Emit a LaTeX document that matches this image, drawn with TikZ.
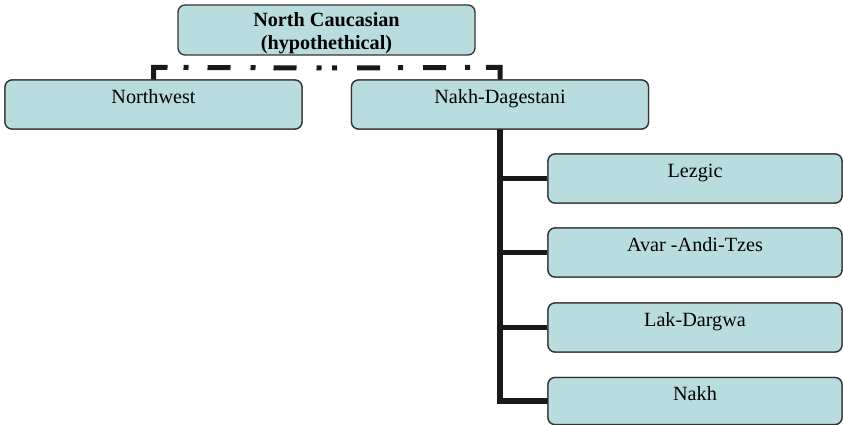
\documentclass[tikz,border=0pt]{standalone}
\usepackage{fontspec}
\setmainfont{Liberation Serif}
\begin{document}
\begin{tikzpicture}[x=1pt,y=-1pt,
  box/.style={draw=black!80, line width=1.3pt, fill=boxfill, rounded corners=7pt, minimum width=297pt, minimum height=49pt, inner sep=0pt},
  lbl/.style={anchor=base, font=\fontsize{20.2}{23}\selectfont, inner sep=0pt},
  conn/.style={draw=black!90, line width=5.5pt},
  dconn/.style={draw=black!90, line width=5pt, dash pattern=on 29pt off 16pt on 5pt off 19pt on 23pt off 20pt on 5pt off 18pt on 23pt off 20pt on 5pt off 30pt}]
\definecolor{boxfill}{HTML}{B9DDDF}
\useasboundingbox (0,0) rectangle (843,425);
% box positions
\path (326.5,30) coordinate (pnc) (153.5,104.5) coordinate (pnw) (500,104.5) coordinate (pnd)
      (695,178.5) coordinate (plz) (695,252.5) coordinate (pav) (695,327.5) coordinate (plk) (695,401) coordinate (pnk);
\node[box, minimum height=50pt] (nc) at (pnc) {};
\node[box] (nw) at (pnw) {};
\node[box] (nd) at (pnd) {};
\node[box, minimum width=294pt] (lz) at (plz) {};
\node[box, minimum width=294pt] (av) at (pav) {};
\node[box, minimum width=294pt] (lk) at (plk) {};
\node[box, minimum width=294pt, minimum height=47pt] (nk) at (pnk) {};
% connectors
\coordinate (mid) at (326.5,68);
\draw[dconn] ([yshift=-3pt]nw.north) -- ++(0,-15) -- (mid);
\draw[dconn] ([yshift=-3pt]nd.north) -- ++(0,-15) -- (mid);
\draw[conn] ([yshift=1pt]nd.south) |- ([xshift=1pt]nk.west);
\draw[conn] (lz.west) -- (lz.west -| nd.south);
\draw[conn] (av.west) -- (av.west -| nd.south);
\draw[conn] (lk.west) -- (lk.west -| nd.south);
% boxes redrawn over connector ends
\node[box] at (pnw) {};
\node[box] at (pnd) {};
\node[box, minimum width=294pt] at (plz) {};
\node[box, minimum width=294pt] at (pav) {};
\node[box, minimum width=294pt] at (plk) {};
\node[box, minimum width=294pt, minimum height=47pt] at (pnk) {};
% texts
\node[lbl, font=\fontsize{20.2}{23}\selectfont\bfseries] (t0) at (326.5,27) {North Caucasian};
\node[lbl, font=\fontsize{20.2}{23}\selectfont\bfseries] (t0b) at (326.5,50) {(hypothethical)};
\node[lbl] (t1) at ([yshift=-24pt]nw.north) {Northwest};
\node[lbl] (t2) at ([yshift=-24pt]nd.north) {Nakh-Dagestani};
\node[lbl] (t3) at ([yshift=-24pt]lz.north) {Lezgic};
\node[lbl] (t4) at ([yshift=-24pt]av.north) {Avar -Andi-Tzes};
\node[lbl] (t5) at ([yshift=-24pt]lk.north) {Lak-Dargwa};
\node[lbl] (t6) at ([yshift=-24pt]nk.north) {Nakh};
\end{tikzpicture}
\end{document}
